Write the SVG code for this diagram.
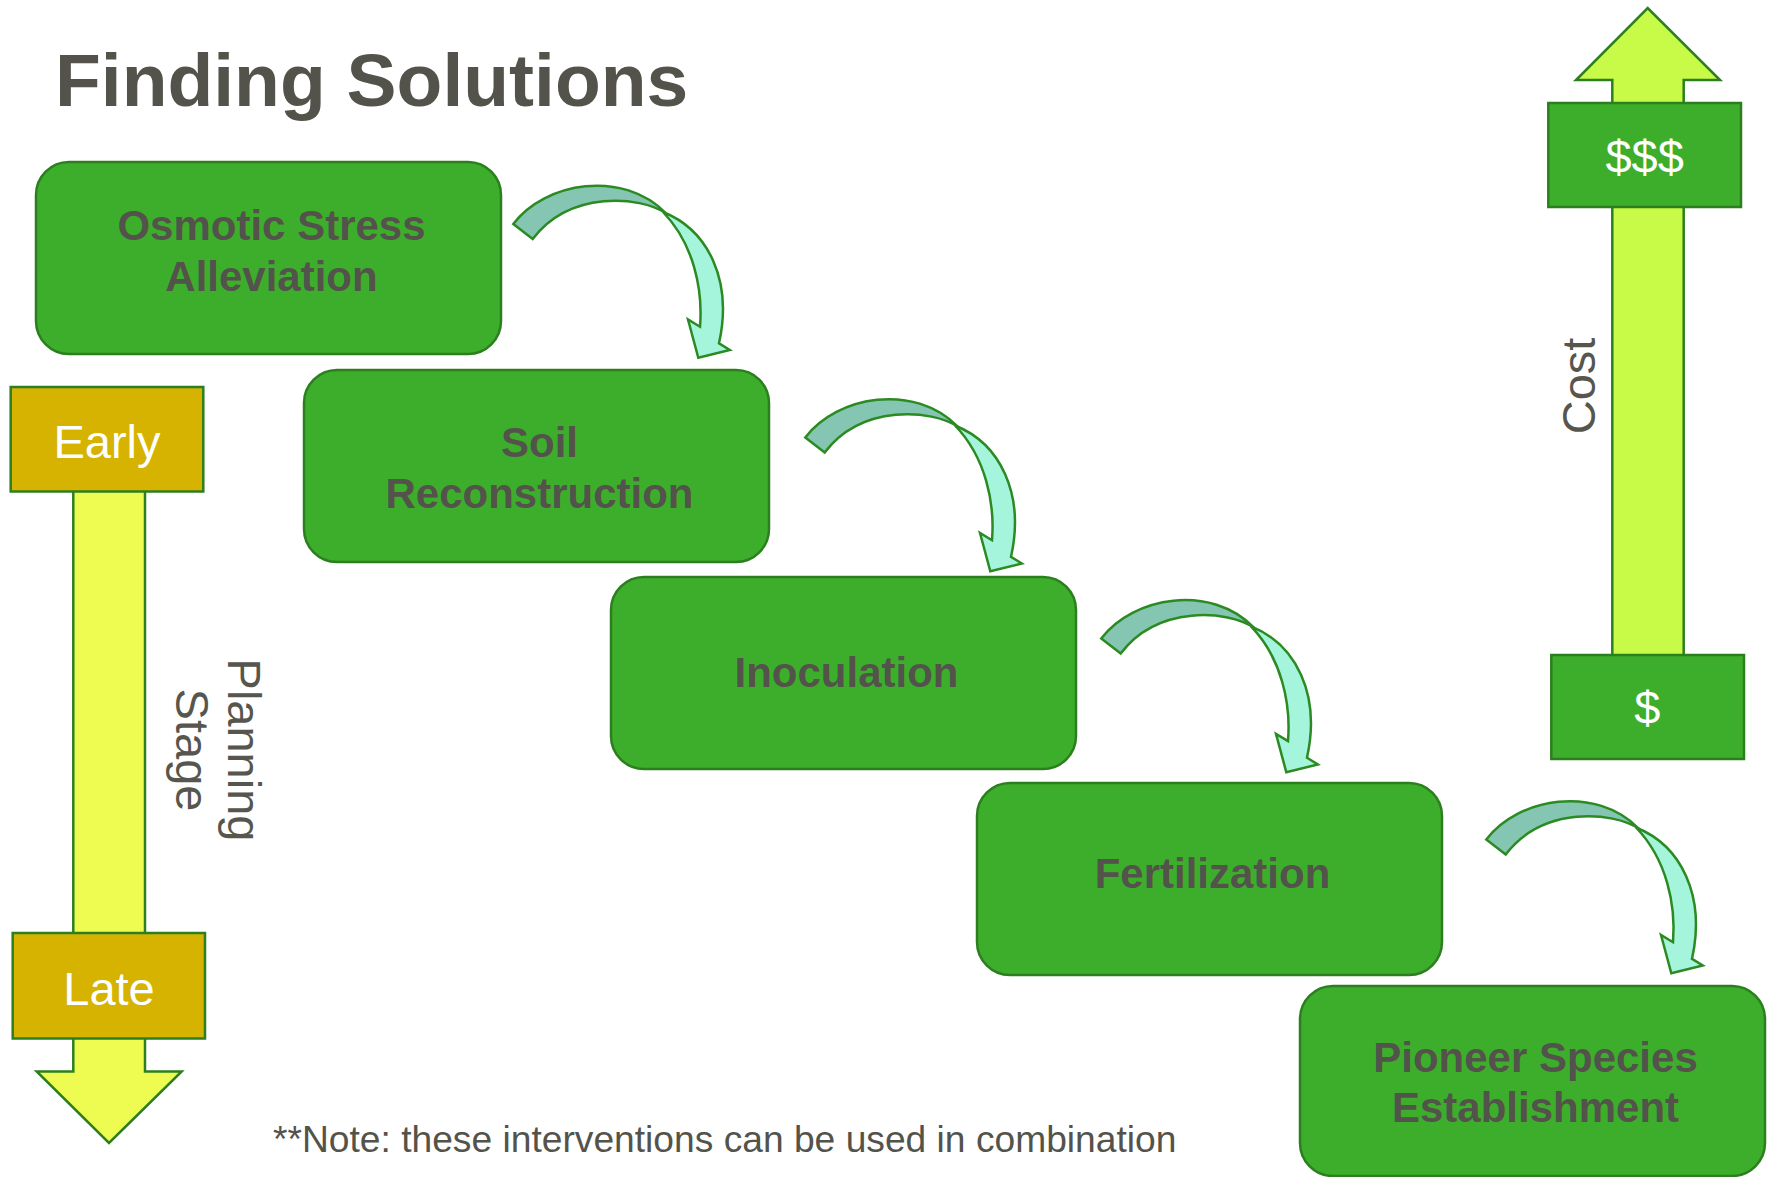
<svg xmlns="http://www.w3.org/2000/svg" width="1768" height="1177" viewBox="0 0 1768 1177">
  <style>
    .box { fill: #3dae2b; stroke: #2c7f1f; stroke-width: 2.5; }
    .step { font-family: "Liberation Sans", Arial, sans-serif; font-weight: bold; font-size: 42px; fill: #53534b; text-anchor: middle; }
    .tag { font-family: "Liberation Sans", Arial, sans-serif; font-size: 47px; fill: #ffffff; text-anchor: middle; }
    .axis { font-family: "Liberation Sans", Arial, sans-serif; font-size: 47px; fill: #56564e; text-anchor: middle; }
    .stage { fill: #d5b300; stroke: #2c7f1f; stroke-width: 2.5; }
    .money { fill: #3dae2b; stroke: #2c7f1f; stroke-width: 2.5; }
    .curl-back { fill: #84c6b2; stroke: #2c8a22; stroke-width: 2.5; stroke-linejoin: miter; }
    .curl-front { fill: #a5f5dc; stroke: #2c8a22; stroke-width: 2.5; stroke-linejoin: miter; }
  </style>
  <defs>
    <!-- curved "next step" arrow: light front band with head, darker twisted tail -->
    <g id="curl">
      <path class="curl-front" d="M663,212 C708,230 733,280 719,343.3 L729.8,350 L698.3,357.8 L688,319.5 L700,326.7 C703,290 694,244 663,212 Z"/>
      <path class="curl-back" d="M513.3,224 C545,182 623,169 666,213.3 C640,196 570,190 532.7,239 Z"/>
    </g>
  </defs>

  <rect x="0" y="0" width="1768" height="1177" fill="#ffffff"/>

  <text x="55" y="106" font-family="Liberation Sans, Arial, sans-serif" font-weight="bold" font-size="75" fill="#53534b">Finding Solutions</text>

  <!-- planning stage scale -->
  <g id="planning-scale">
    <path fill="#eefc52" stroke="#2c7f1f" stroke-width="2.5" d="M73.3,440 L145,440 L145,1071.5 L181.7,1071.5 L109,1143 L36.7,1071.5 L73.3,1071.5 Z"/>
    <text class="axis" transform="translate(228,750) rotate(90)">Planning</text>
    <text class="axis" transform="translate(176,750) rotate(90)">Stage</text>
  </g>
  <g id="early">
    <rect class="stage" x="10.7" y="387" width="192.6" height="104.5"/>
    <text class="tag" x="107" y="458">Early</text>
  </g>
  <g id="late">
    <rect class="stage" x="12.7" y="933" width="192.3" height="105.5"/>
    <text class="tag" x="109" y="1005">Late</text>
  </g>

  <!-- cost scale -->
  <g id="cost-scale">
    <path fill="#c8fb48" stroke="#2c7f1f" stroke-width="2.5" d="M1612.3,700 L1612.3,80 L1576,80 L1647.7,8 L1720,80 L1683.7,80 L1683.7,700 Z"/>
    <text class="axis" transform="translate(1595,386) rotate(-90)">Cost</text>
  </g>
  <g id="cost-high">
    <rect class="money" x="1548.3" y="103" width="192.7" height="104"/>
    <text class="tag" x="1644.6" y="173">$$$</text>
  </g>
  <g id="cost-low">
    <rect class="money" x="1551.3" y="655" width="192.7" height="104"/>
    <text class="tag" x="1647.4" y="724">$</text>
  </g>

  <!-- steps -->
  <g id="osmotic">
    <rect class="box" x="36" y="162" width="465" height="192" rx="33" ry="33"/>
    <text class="step" x="271.5" y="240">Osmotic Stress</text>
    <text class="step" x="271.5" y="291">Alleviation</text>
  </g>
  <g id="soil">
    <rect class="box" x="304" y="370" width="465" height="192" rx="33" ry="33"/>
    <text class="step" x="539.5" y="457">Soil</text>
    <text class="step" x="539.5" y="508">Reconstruction</text>
  </g>
  <g id="inoculation">
    <rect class="box" x="611" y="577" width="465" height="192" rx="33" ry="33"/>
    <text class="step" x="846.5" y="687">Inoculation</text>
  </g>
  <g id="fertilization">
    <rect class="box" x="977" y="783" width="465" height="192" rx="33" ry="33"/>
    <text class="step" x="1212.5" y="888">Fertilization</text>
  </g>
  <g id="pioneer">
    <rect class="box" x="1300" y="986" width="465" height="190" rx="33" ry="33"/>
    <text class="step" x="1535.5" y="1072">Pioneer Species</text>
    <text class="step" x="1535.5" y="1122">Establishment</text>
  </g>

  <!-- connectors -->
  <g id="connectors">
    <use href="#curl"/>
    <use href="#curl" transform="translate(292,213.5)"/>
    <use href="#curl" transform="translate(588,414.4)"/>
    <use href="#curl" transform="translate(973,615.5)"/>
  </g>

  <text x="273" y="1152" font-family="Liberation Sans, Arial, sans-serif" font-size="37.2" fill="#53534b">**Note: these interventions can be used in combination</text>
</svg>
